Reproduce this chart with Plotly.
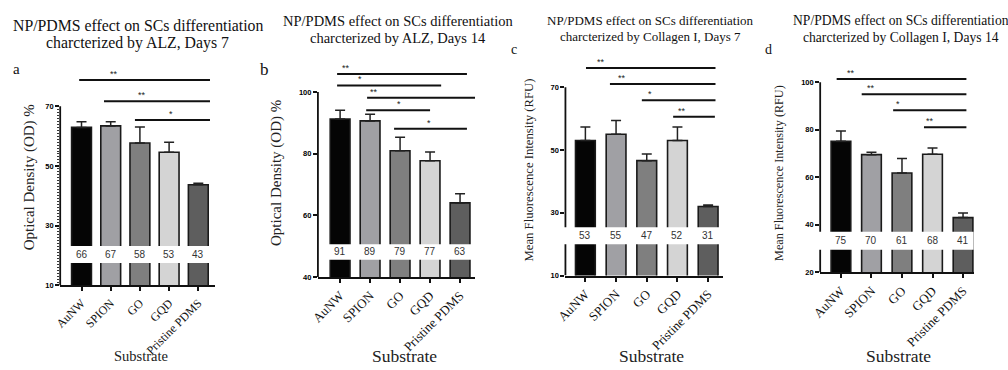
import plotly.graph_objects as go

# ---------------- data ----------------
categories = ["AuNW", "SPION", "GO", "GQD", "Pristine PDMS"]
bar_colors = ["#050505", "#a0a0a4", "#7f7f7f", "#d4d4d4", "#5e5e5e"]

alz7_mean = [62.9, 63.4, 57.7, 54.6, 43.7]
alz7_err = [1.9, 1.4, 5.3, 3.3, 0.5]
alz7_labels = ["66", "67", "58", "53", "43"]
alz7_ticks = [10, 30, 50, 70]
alz7_pairs = [(0, 4), (1, 4), (2, 4)]
alz7_stars = ["**", "**", "*"]

alz14_mean = [91.2, 90.6, 80.9, 77.7, 64.0]
alz14_err = [2.9, 2.2, 4.4, 2.8, 3.0]
alz14_labels = ["91", "89", "79", "77", "63"]
alz14_ticks = [40, 60, 80, 100]
alz14_pairs = [(0, 4), (0, 3), (1, 4), (1, 3), (2, 4)]
alz14_stars = ["**", "*", "**", "*", "*"]

col7_mean = [53.0, 55.0, 46.6, 53.0, 32.0]
col7_err = [4.3, 4.4, 2.1, 4.3, 0.5]
col7_labels = ["53", "55", "47", "52", "31"]
col7_ticks = [10, 30, 50, 70]
col7_pairs = [(0, 4), (1, 4), (2, 4), (3, 4)]
col7_stars = ["**", "**", "*", "**"]

col14_mean = [75.1, 69.5, 61.8, 69.7, 43.0]
col14_err = [4.4, 1.0, 6.1, 2.6, 1.9]
col14_labels = ["75", "70", "61", "68", "41"]
col14_ticks = [20, 40, 60, 80, 100]
col14_pairs = [(0, 4), (1, 4), (2, 4), (3, 4)]
col14_stars = ["**", "**", "*", "**"]

# ---------------- layout / positions ----------------
W, H = 1008, 370
SERIF = "Liberation Serif, Times New Roman, serif"
SANS = "Liberation Sans, Arial, sans-serif"

panels = [
    dict(mean=alz7_mean, err=alz7_err, labels=alz7_labels, ticks=alz7_ticks,
         pairs=alz7_pairs, stars=alz7_stars,
         px_x=(50.7, 207), px_y=(289.3, 77.4), xr=(-0.73, 4.57), yr=(10, 80),
         bw=0.68, band=(17.5, 23.2), band_x=(0.02, 0.985),
         sig_y=[78.8, 71.7, 65.4], sig_x0=[-0.08, -0.23, -0.17], sig_x1=[0.4, 0.4, 0.4],
         star_x=[1.11, 2.06, 3.07], minor=True, cat_size=12,
         title=("NP/PDMS effect on SCs differentiation", "charcterized by ALZ, Days 7"),
         title_pos=(129, 25.5, 44), title_size=15.8,
         letter="a", letter_pos=(7, 70), letter_size=15,
         ytitle="Optical Density (OD) %", ytitle_pos=(20, 180), ytitle_size=15,
         xtitle_pos=(132, 361), xtitle_size=14.5),
    dict(mean=alz14_mean, err=alz14_err, labels=alz14_labels, ticks=alz14_ticks,
         pairs=alz14_pairs, stars=alz14_stars,
         px_x=(311, 470), px_y=(280.7, 68.2), xr=(-0.74, 4.51), yr=(40, 108),
         bw=0.66, band=(45.6, 50.6), band_x=(0.02, 0.985),
         sig_y=[105.8, 102.1, 98.1, 94.1, 88.1],
         sig_x0=[-0.1, -0.1, -0.1, -0.13, -0.2], sig_x1=[0.23, 0.37, 0.5, 0.0, 0.23],
         star_x=[0.19, 0.68, 1.14, 1.97, 2.95], minor=False, cat_size=13,
         title=("NP/PDMS effect on SCs differentiation", "charcterized by ALZ, Days 14"),
         title_pos=(392, 21, 38.5), title_size=14.5,
         letter="b", letter_pos=(257, 70), letter_size=17,
         ytitle="Optical Density (OD) %", ytitle_pos=(269, 175), ytitle_size=15,
         xtitle_pos=(398, 361), xtitle_size=17.5),
    dict(mean=col7_mean, err=col7_err, labels=col7_labels, ticks=col7_ticks,
         pairs=col7_pairs, stars=col7_stars,
         px_x=(561, 720), px_y=(279.3, 62.9), xr=(-0.65, 4.48), yr=(10, 78),
         bw=0.645, band=(20.0, 25.4), band_x=(-0.03, 0.995),
         sig_y=[76.1, 71.0, 65.8, 60.6],
         sig_x0=[0.02, -0.2, -0.16, -0.14], sig_x1=[0.24, 0.24, 0.24, 0.22],
         star_x=[0.51, 1.2, 2.1, 3.14], minor=False, cat_size=13,
         title=("NP/PDMS effect on SCs differentiation", "charcterized by Collagen I, Days 7"),
         title_pos=(647, 21, 37), title_size=13,
         letter="c", letter_pos=(509, 50), letter_size=14,
         ytitle="Mean Fluorescence Intensity (RFU)", ytitle_pos=(524, 172), ytitle_size=12.7,
         xtitle_pos=(648, 361), xtitle_size=17.5),
    dict(mean=col14_mean, err=col14_err, labels=col14_labels, ticks=col14_ticks,
         pairs=col14_pairs, stars=col14_stars,
         px_x=(818.3, 974), px_y=(276, 73.7), xr=(-0.68, 4.37), yr=(20, 104),
         bw=0.645, band=(29.5, 37.1), band_x=(-0.03, 0.995),
         sig_y=[101.4, 94.9, 88.2, 81.0],
         sig_x0=[-0.14, -0.32, -0.29, -0.28], sig_x1=[0.11, 0.11, 0.11, 0.11],
         star_x=[0.32, 0.99, 1.88, 2.92], minor=False, cat_size=13,
         title=("NP/PDMS effect on SCs differentiation", "charcterized by Collagen I, Days 14"),
         title_pos=(900, 21, 38.5), title_size=13.6,
         letter="d", letter_pos=(766, 50), letter_size=14,
         ytitle="Mean Fluorescence Intensity (RFU)", ytitle_pos=(776, 175), ytitle_size=12.2,
         xtitle_pos=(897, 361), xtitle_size=17.5),
]


def px(xp):
    return xp / W


def py(yp):
    return 1 - yp / H


fig = go.Figure()
shapes = []
annotations = []
layout = {}

for k, p in enumerate(panels, start=1):
    sfx = "" if k == 1 else str(k)
    xa, ya = "x" + sfx, "y" + sfx
    fig.add_trace(go.Bar(
        x=categories, y=p["mean"], xaxis=xa, yaxis=ya, width=p["bw"],
        marker=dict(color=bar_colors, line=dict(color="#1a1a1a", width=1.6)),
        error_y=dict(type="data", symmetric=False, array=p["err"],
                     arrayminus=[0] * len(p["err"]), color="#222222",
                     thickness=1.5, width=5),
        showlegend=False, hoverinfo="skip"))

    layout["xaxis" + sfx] = dict(
        domain=[px(p["px_x"][0]), px(p["px_x"][1])], anchor=ya,
        range=list(p["xr"]), type="category", categoryorder="array",
        categoryarray=categories, showline=True, linewidth=2, linecolor="#111111",
        ticks="outside", ticklen=4, tickwidth=1.5, tickcolor="#111111",
        tickangle=-45, tickfont=dict(family=SERIF, size=p["cat_size"], color="#111111"),
        showgrid=False, zeroline=False, fixedrange=True)
    yax = dict(
        domain=[py(p["px_y"][0]), py(p["px_y"][1])], anchor=xa,
        range=list(p["yr"]), showline=False, tickmode="array",
        tickvals=p["ticks"], ticktext=[str(t) for t in p["ticks"]],
        ticks="outside", ticklen=4, tickwidth=1.5, tickcolor="#111111",
        tickfont=dict(family=SANS, size=7.5, color="#000000", weight="bold"),
        showgrid=False, zeroline=False, fixedrange=True)
    if p["minor"]:
        yax["minor"] = dict(tickmode="array",
                            tickvals=list(range(p["ticks"][0] + 1, p["ticks"][-1])),
                            ticks="outside", ticklen=2.5, tickwidth=1, tickcolor="#333333")
    layout["yaxis" + sfx] = yax

    xdom = xa + " domain"
    shapes.append(dict(type="line", xref=xdom, yref=ya, x0=0, x1=0,
                       y0=p["ticks"][0], y1=p["ticks"][-1],
                       line=dict(color="#111111", width=1.8), layer="above"))
    shapes.append(dict(type="rect", xref=xdom, yref=ya,
                       x0=p["band_x"][0], x1=p["band_x"][1],
                       y0=p["band"][0], y1=p["band"][1],
                       fillcolor="white", line=dict(width=0), layer="above"))
    ymid = (p["band"][0] + p["band"][1]) / 2
    for i, lab in enumerate(p["labels"]):
        annotations.append(dict(x=i, y=ymid, xref=xa, yref=ya, text=lab,
                                showarrow=False,
                                font=dict(family=SANS, size=10, color="#333333")))
    for (i, j), s, yl, a0, a1, sx in zip(p["pairs"], p["stars"], p["sig_y"],
                                          p["sig_x0"], p["sig_x1"], p["star_x"]):
        shapes.append(dict(type="line", xref=xa, yref=ya, x0=i + a0, x1=j + a1,
                           y0=yl, y1=yl, line=dict(color="#111111", width=2),
                           layer="above"))
        annotations.append(dict(x=sx, y=yl, xref=xa, yref=ya, text=s,
                                showarrow=False, yanchor="bottom", yshift=-1,
                                font=dict(family=SANS, size=9, color="#222222")))

    tx, ty1, ty2 = p["title_pos"]
    for line, tyy in zip(p["title"], (ty1, ty2)):
        annotations.append(dict(x=px(tx), y=py(tyy), xref="paper", yref="paper",
                                text=line, showarrow=False, xanchor="center",
                                yanchor="middle", borderpad=0,
                                font=dict(family=SERIF, size=p["title_size"],
                                          color="#111111")))
    lx, ly = p["letter_pos"]
    annotations.append(dict(x=px(lx), y=py(ly), xref="paper", yref="paper",
                            text=p["letter"], showarrow=False, xanchor="center",
                            yanchor="middle",
                            font=dict(family=SERIF, size=p["letter_size"], color="#111111")))
    yx, yy = p["ytitle_pos"]
    annotations.append(dict(x=px(yx), y=py(yy), xref="paper", yref="paper",
                            text=p["ytitle"], showarrow=False, textangle=-90,
                            xanchor="center", yanchor="middle",
                            font=dict(family=SERIF, size=p["ytitle_size"], color="#222222")))
    sxp, syp = p["xtitle_pos"]
    annotations.append(dict(x=px(sxp), y=py(syp), xref="paper", yref="paper",
                            text="Substrate", showarrow=False, xanchor="center",
                            yanchor="middle",
                            font=dict(family=SERIF, size=p["xtitle_size"], color="#222222")))

fig.update_layout(
    width=W, height=H, margin=dict(l=0, r=0, t=0, b=0),
    paper_bgcolor="white", plot_bgcolor="white",
    shapes=shapes, annotations=annotations, bargap=0.3,
    **layout)

fig.write_html("out.html", config={"displayModeBar": False},
               post_script="document.body.style.margin='0';document.body.style.overflow='hidden';")
